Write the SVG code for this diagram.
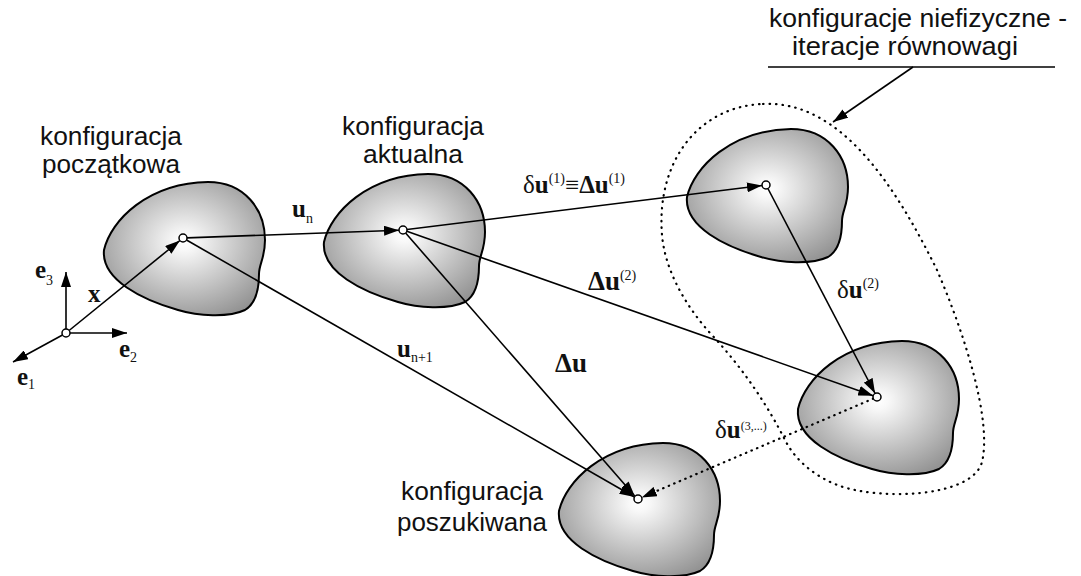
<svg xmlns="http://www.w3.org/2000/svg" xmlns:xlink="http://www.w3.org/1999/xlink" width="1081" height="576" viewBox="0 0 1081 576">
  <style>
    .blob { fill: url(#shade); stroke: #000; stroke-width: 2; }
    .vec { stroke: #000; stroke-width: 1.6; fill: none; marker-end: url(#head); }
    .dot { stroke-dasharray: 0.5 5.5; stroke-linecap: round; stroke-width: 2.2; }
    .ring { fill: none; stroke: #000; stroke-width: 2.2; stroke-dasharray: 0.5 6; stroke-linecap: round; }
    .pt { fill: #fff; stroke: #000; stroke-width: 1.5; }
    .lbl { font-family: "Liberation Sans", Arial, sans-serif; font-size: 26px; text-anchor: middle; fill: #111; }
    .m { font-family: "Liberation Serif", "Times New Roman", "DejaVu Serif", serif; font-size: 25px; font-weight: bold; fill: #111; }
    .n { font-weight: normal; }
    .s { font-size: 14px; font-weight: normal; }
  </style>
  <defs>
    <radialGradient id="shade" cx="0.5" cy="0.45" r="0.62">
      <stop offset="0" stop-color="#ffffff"/>
      <stop offset="0.1" stop-color="#f8f8f8"/>
      <stop offset="1" stop-color="#929292"/>
    </radialGradient>
    <marker id="head" markerUnits="userSpaceOnUse" markerWidth="15" markerHeight="10" viewBox="0 0 15 10" refX="15" refY="5" orient="auto">
      <path d="M0,0 L15,5 L0,10 Z" fill="#000"/>
    </marker>
    <!-- body outline drawn around its material point at (0,0) -->
    <path id="body" d="M -79,12 C -72,-18 -35,-55 25,-56 C 62,-56 82,-28 82,2 C 82,20 76,26 76,36 C 76,52 72,66 62,72 C 45,80 15,78 -5,72 C -40,62 -82,42 -79,12 Z"/>
  </defs>

  <rect width="1081" height="576" fill="#fff"/>

  <!-- bodies -->
  <g id="initial">
    <use xlink:href="#body" class="blob" transform="translate(183,238)"/>
    <text class="lbl" x="111" y="145" textLength="142" lengthAdjust="spacingAndGlyphs">konfiguracja</text>
    <text class="lbl" x="111" y="173" textLength="138" lengthAdjust="spacingAndGlyphs">początkowa</text>
  </g>
  <g id="current">
    <use xlink:href="#body" class="blob" transform="translate(403,230)"/>
    <text class="lbl" x="413" y="135" textLength="142" lengthAdjust="spacingAndGlyphs">konfiguracja</text>
    <text class="lbl" x="413" y="163" textLength="100" lengthAdjust="spacingAndGlyphs">aktualna</text>
  </g>
  <g id="iter1">
    <use xlink:href="#body" class="blob" transform="translate(766,185)"/>
  </g>
  <g id="iter2">
    <use xlink:href="#body" class="blob" transform="translate(877,397)"/>
  </g>
  <g id="sought">
    <use xlink:href="#body" class="blob" transform="translate(638,499)"/>
    <text class="lbl" x="472" y="500" textLength="142" lengthAdjust="spacingAndGlyphs">konfiguracja</text>
    <text class="lbl" x="472" y="531" textLength="150" lengthAdjust="spacingAndGlyphs">poszukiwana</text>
  </g>

  <!-- region of non-physical configurations -->
  <g id="iterations">
    <path class="ring" d="M 763,104 C 840,100 895,185 937,270 C 965,335 992,420 982,462 C 972,498 880,500 840,486 C 815,477 795,460 785,440 C 770,410 745,370 710,333 C 685,305 665,270 662,235 C 656,160 700,106 763,104 Z"/>
    <text class="lbl" x="918" y="27" textLength="298" lengthAdjust="spacingAndGlyphs">konfiguracje niefizyczne -</text>
    <text class="lbl" x="905" y="55" textLength="226" lengthAdjust="spacingAndGlyphs">iteracje równowagi</text>
    <line x1="768" y1="67" x2="1055" y2="67" stroke="#000" stroke-width="1.6"/>
  </g>

  <!-- connectors -->
  <g id="connectors">
    <line class="vec" x1="913" y1="67" x2="833" y2="122"/>
    <!-- basis -->
    <line class="vec" x1="66" y1="329" x2="66" y2="272"/>
    <line class="vec" x1="70" y1="333" x2="127" y2="333"/>
    <line class="vec" x1="62.5" y1="335" x2="13" y2="362"/>
    <line class="vec" x1="69.1" y1="330.5" x2="179.9" y2="240.5"/>
    <!-- displacements -->
    <line class="vec" x1="187" y1="237.9" x2="399" y2="230.2"/>
    <line class="vec" x1="186.5" y1="240" x2="634.5" y2="497"/>
    <line class="vec" x1="407" y1="229.5" x2="762" y2="185.5"/>
    <line class="vec" x1="406.8" y1="231.3" x2="873.2" y2="395.7"/>
    <line class="vec" x1="405.6" y1="233" x2="634.7" y2="496"/>
    <line class="vec" x1="767.9" y1="188.5" x2="875.1" y2="393.5"/>
    <line class="vec dot" x1="873.3" y1="398.6" x2="641.7" y2="497.4"/>
    <!-- material points -->
    <circle class="pt" cx="66" cy="333" r="4"/>
    <circle class="pt" cx="183" cy="238" r="4"/>
    <circle class="pt" cx="403" cy="230" r="4"/>
    <circle class="pt" cx="766" cy="185" r="4"/>
    <circle class="pt" cx="877" cy="397" r="4"/>
    <circle class="pt" cx="638" cy="499" r="4"/>
  </g>

  <!-- symbols -->
  <g id="symbols">
    <text class="m" x="35" y="278">e<tspan class="s" dy="7">3</tspan></text>
    <text class="m" x="119" y="357">e<tspan class="s" dy="5">2</tspan></text>
    <text class="m" x="17" y="385">e<tspan class="s" dy="4">1</tspan></text>
    <text class="m" x="88" y="302">x</text>
    <text class="m" x="292" y="217">u<tspan class="s" dy="6">n</tspan></text>
    <text class="m" x="397" y="357">u<tspan class="s" dy="5">n+1</tspan></text>
    <text class="m" x="555" y="372" style="font-size:27px">Δu</text>
    <text class="m" x="588" y="290" style="font-size:27px">Δu<tspan class="s" dy="-10">(2)</tspan></text>
    <text class="m" x="523" y="193"><tspan class="n">δ</tspan>u<tspan class="s" dy="-10">(1)</tspan><tspan class="n" dy="10">≡</tspan>Δu<tspan class="s" dy="-10">(1)</tspan></text>
    <text class="m" x="837" y="298"><tspan class="n">δ</tspan>u<tspan class="s" dy="-10">(2)</tspan></text>
    <text class="m" x="715" y="438"><tspan class="n">δ</tspan>u<tspan class="s" dy="-8" style="font-size:12px">(3,...)</tspan></text>
  </g>
</svg>
